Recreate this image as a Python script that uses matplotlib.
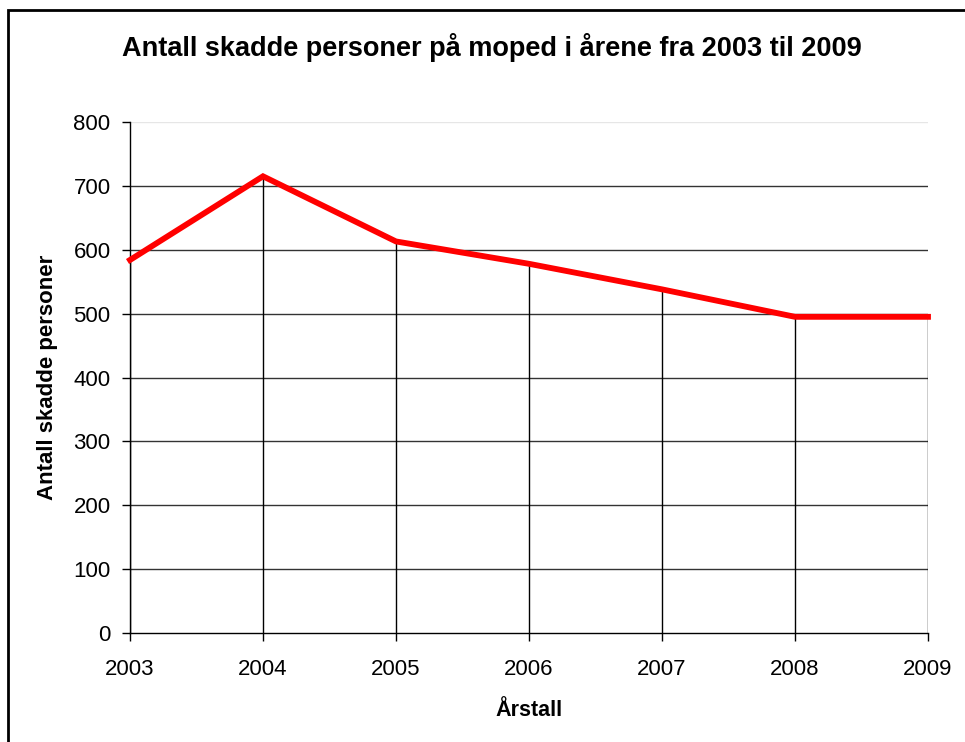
import matplotlib
matplotlib.use("Agg")
import matplotlib.pyplot as plt
from matplotlib.patches import Rectangle

plt.rcParams['font.family'] = ['Liberation Sans', 'DejaVu Sans']

years = [2003, 2004, 2005, 2006, 2007, 2008, 2009]
skadde = [584, 715, 613, 578, 538, 495, 495]
yticks = [0, 100, 200, 300, 400, 500, 600, 700, 800]

fig = plt.figure(figsize=(9.65, 7.42), dpi=100)
ax = fig.add_axes([130/965, 109/742, 798/965, 511/742])

# ramme rundt hele diagrammet
fig.patches.append(Rectangle((8/965, -0.05), 1.1, 1 - 10/742 + 0.05, transform=fig.transFigure,
                             fill=False, edgecolor='black', linewidth=2))

# gridlinjer
for v in yticks[1:-1]:
    ax.axhline(v, color='#333333', linewidth=1, zorder=1)
ax.axhline(yticks[-1], color='#e6e6e6', linewidth=1, zorder=1)

# loddrette linjer ned fra hvert punkt
ax.vlines(years, 0, skadde, color='black', linewidth=1, zorder=2)

ax.plot(years, skadde, color='#ff0000', linewidth=4.2, solid_joinstyle='miter', zorder=3, clip_on=False)

ax.set_xlim(years[0], years[-1])
ax.set_ylim(0, 800)
ax.set_xticks(years)
ax.set_yticks(yticks)
ax.tick_params(axis='both', labelsize=16, direction='out', length=6, width=1, colors='black')
ax.tick_params(axis='x', pad=13)
ax.tick_params(axis='y', pad=8)

for s in ['top', 'right']:
    ax.spines[s].set_visible(False)
ax.spines['left'].set_linewidth(1)
ax.spines['bottom'].set_linewidth(1)

ax.set_ylabel('Antall skadde personer', fontsize=16, fontweight='bold')
ax.yaxis.set_label_coords(-(130 - 48) / 798, 0.5)
ax.set_xlabel('Årstall', fontsize=15.5, fontweight='bold')
ax.xaxis.set_label_coords(0.5, -(710 - 633) / 511)
ax.xaxis.label.set_va('center')
ax.yaxis.label.set_va('center')
fig.text(492/965, 1 - 47/742, 'Antall skadde personer på moped i årene fra 2003 til 2009',
         fontsize=19.5, fontweight='bold', ha='center', va='center')

fig.savefig('out.png', dpi=100)
